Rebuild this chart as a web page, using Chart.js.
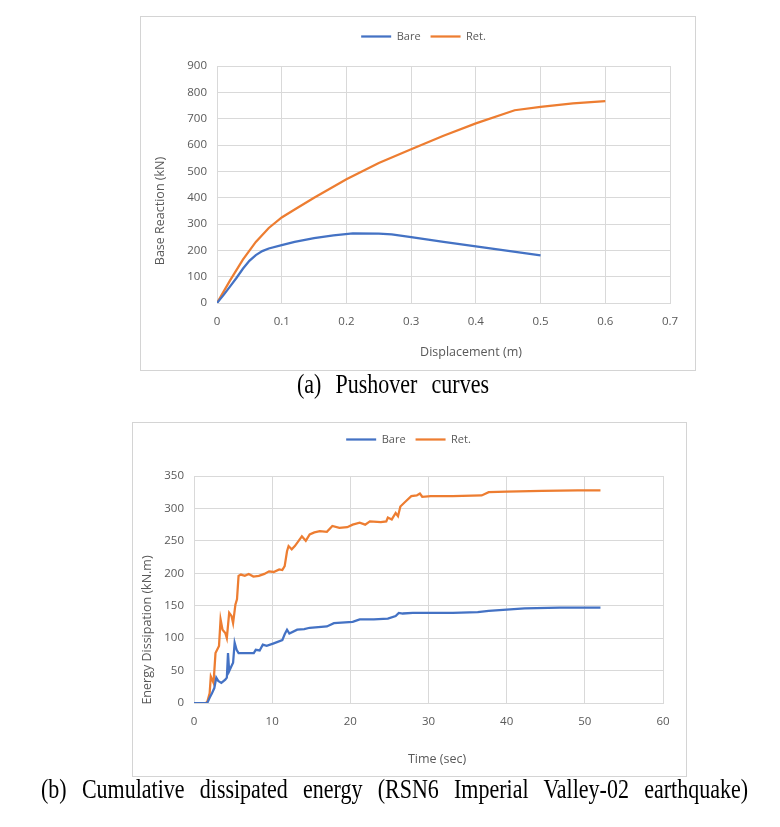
<!DOCTYPE html>
<html lang="en">
<head>
  <meta charset="UTF-8">
  <title>Pushover curves and dissipated energy</title>
  <style>
    body {
      margin: 0;
      background: #fff;
      width: 780px;
      height: 827px;
      position: relative;
      overflow: hidden;
    }
    .box {
      position: absolute;
      border: 1px solid #d4d4d4;
      background: #fff;
    }
    .box canvas { display: block; }
    .caption {
      position: absolute;
      font-family: "Liberation Serif", "DejaVu Serif", serif;
      font-size: 22px;
      color: #000;
      text-align: justify;
      text-align-last: justify;
      white-space: nowrap;
      line-height: 1;
      transform: scaleY(1.22);
      transform-origin: 50% 0;
    }
  </style>
  <script src="https://cdn.jsdelivr.net/npm/chart.js"></script>
</head>
<body>

  <div class="box" style="left:140px; top:16px;">
    <canvas id="pushoverChart" width="554" height="353"></canvas>
  </div>
  <div class="caption" style="left:297px; top:371px; width:192px;">(a) Pushover curves</div>

  <div class="box" style="left:132px; top:422px;">
    <canvas id="energyChart" width="553" height="353"></canvas>
  </div>
  <div class="caption" style="left:41px; top:776px; width:707px;">(b) Cumulative dissipated energy (RSN6 Imperial Valley-02 earthquake)</div>

  <script>
    // (a) pushover curves
    const bareDisp = [0, 0.01, 0.02, 0.03, 0.04, 0.05, 0.06, 0.07, 0.08, 0.1, 0.12, 0.15, 0.18, 0.21, 0.25, 0.27, 0.3, 0.35, 0.4, 0.45, 0.5];
    const bareReaction = [0, 30, 62, 95, 130, 160, 182, 197, 207, 220, 232, 246, 257, 264, 263, 261, 250, 232, 215, 198, 181];
    const retDisp = [0, 0.02, 0.04, 0.06, 0.08, 0.1, 0.12, 0.15, 0.2, 0.25, 0.3, 0.35, 0.4, 0.46, 0.5, 0.55, 0.6];
    const retReaction = [0, 85, 165, 232, 285, 325, 355, 400, 470, 532, 584, 635, 682, 732, 745, 758, 767];

    // (b) cumulative dissipated energy
    const bareTime = [0, 1.7, 2.0, 2.3, 2.6, 2.85, 3.1, 3.5, 4.0, 4.2, 4.35, 4.5, 4.8, 5.0, 5.2, 5.45, 5.7, 7.0, 7.65, 7.9, 8.4, 8.8, 9.3, 10.2, 11.3, 11.6, 11.9, 12.2, 13.2, 14.1, 14.8, 17.0, 17.9, 20.3, 21.2, 23.0, 24.8, 25.8, 26.2, 26.7, 28.0, 29.9, 33.1, 36.3, 37.7, 40.0, 42.3, 46.8, 52];
    const bareEnergy = [0, 0, 8, 15, 23, 39, 34, 31, 36, 39, 77, 49, 57, 62, 93, 82, 77, 77, 77, 82, 81, 90, 88, 92, 97, 106, 113, 107, 113, 114, 116, 118, 123, 125, 129, 129, 130, 134, 139, 138, 139, 139, 139, 140, 142, 144, 146, 147, 147];
    const retTime = [0, 1.5, 1.7, 2.0, 2.15, 2.5, 2.75, 3.2, 3.4, 3.65, 4.0, 4.2, 4.5, 4.8, 5.0, 5.3, 5.5, 5.7, 6.0, 6.5, 7.0, 7.6, 8.3, 9.0, 9.6, 10.2, 10.9, 11.3, 11.6, 11.9, 12.1, 12.5, 12.9, 13.5, 13.8, 14.3, 14.8, 15.4, 16.1, 17.0, 17.7, 18.6, 19.6, 20.3, 21.2, 21.9, 22.5, 23.9, 24.6, 24.8, 25.3, 25.8, 26.1, 26.4, 27.1, 27.8, 28.5, 28.9, 29.2, 30.3, 33.1, 36.8, 37.7, 40.0, 44.5, 49.1, 52];
    const retEnergy = [0, 0, 2, 15, 41, 31, 77, 88, 129, 113, 108, 100, 139, 134, 123, 152, 160, 196, 198, 196, 199, 195, 196, 199, 203, 202, 206, 205, 211, 234, 242, 237, 242, 252, 257, 250, 260, 263, 265, 264, 273, 270, 271, 275, 278, 275, 280, 279, 280, 286, 283, 293, 288, 303, 311, 319, 320, 323, 318, 319, 319, 320, 325, 326, 327, 328, 328];

    const seriesNames = ['Bare', 'Ret.'];
    const seriesColors = ['#4472C4', '#ED7D31'];

    const textGrey = '#595959';
    const gridGrey = '#d9d9d9';
    const baseFont = { family: '"Open Sans", "Liberation Sans", sans-serif', size: 11.5 };

    function toPoints(xs, ys) {
      return xs.map((x, i) => ({ x: x, y: ys[i] }));
    }

    // make room between the legend and the plot, like the Excel layout
    const legendGap = {
      id: 'legendGap',
      beforeInit(chart, args, opts) {
        const fit = chart.legend.fit;
        chart.legend.fit = function () {
          fit.bind(chart.legend)();
          this.height += opts.gap || 0;
        };
      }
    };

    // axis titles drawn by hand so they can sit off-centre like the original
    const axisTitles = {
      id: 'axisTitles',
      afterDraw(chart, args, opts) {
        const ctx = chart.ctx;
        ctx.save();
        ctx.fillStyle = textGrey;
        ctx.font = '12.5px "Open Sans", "Liberation Sans", sans-serif';
        ctx.textAlign = 'center';
        ctx.textBaseline = 'middle';
        ctx.fillText(opts.x.text, opts.x.cx, opts.x.cy);
        ctx.translate(opts.y.cx, opts.y.cy);
        ctx.rotate(-Math.PI / 2);
        ctx.fillText(opts.y.text, 0, 0);
        ctx.restore();
      }
    };

    function makeChart(id, datasets, xScale, yScale, layout) {
      const ctx = document.getElementById(id).getContext('2d');
      return new Chart(ctx, {
        type: 'scatter',
        data: {
          datasets: datasets.map((d, i) => ({
            label: seriesNames[i],
            data: d,
            showLine: true,
            borderColor: seriesColors[i],
            backgroundColor: seriesColors[i],
            borderWidth: 2.25,
            pointRadius: 0,
            tension: 0
          }))
        },
        options: {
          responsive: false,
          animation: false,
          layout: { padding: layout.padding },
          plugins: {
            legend: {
              position: 'top',
              labels: {
                usePointStyle: true,
                pointStyle: 'line',
                pointStyleWidth: 30,
                color: textGrey,
                font: { family: baseFont.family, size: 11 },
                padding: 10
              }
            },
            tooltip: { enabled: false },
            legendGap: { gap: layout.legendGap },
            axisTitles: layout.titles
          },
          scales: {
            x: {
              type: 'linear',
              min: xScale.min,
              max: xScale.max,
              ticks: {
                stepSize: xScale.step,
                color: textGrey,
                font: baseFont,
                padding: 12,
                maxRotation: 0,
                callback: v => Number(v.toFixed(2)).toString()
              },
              grid: { color: gridGrey, drawTicks: false },
              border: { color: gridGrey },
              afterFit(scale) { scale.height = layout.xHeight; }
            },
            y: {
              type: 'linear',
              min: yScale.min,
              max: yScale.max,
              ticks: {
                stepSize: yScale.step,
                color: textGrey,
                font: baseFont,
                padding: 10
              },
              grid: { color: gridGrey, drawTicks: false },
              border: { color: gridGrey },
              afterFit(scale) { scale.width = 40; }
            }
          }
        },
        plugins: [legendGap, axisTitles]
      });
    }

    makeChart('pushoverChart',
      [toPoints(bareDisp, bareReaction), toPoints(retDisp, retReaction)],
      { min: 0, max: 0.7, step: 0.1 },
      { min: 0, max: 900, step: 100 },
      {
        padding: { left: 36, right: 25, top: 4, bottom: 0 },
        legendGap: 14,
        xHeight: 67,
        titles: {
          x: { text: 'Displacement (m)', cx: 330, cy: 335 },
          y: { text: 'Base Reaction (kN)', cx: 19, cy: 194 }
        }
      });

    makeChart('energyChart',
      [toPoints(bareTime, bareEnergy), toPoints(retTime, retEnergy)],
      { min: 0, max: 60, step: 10 },
      { min: 0, max: 350, step: 50 },
      {
        padding: { left: 21, right: 23, top: 1, bottom: 0 },
        legendGap: 21,
        xHeight: 73,
        titles: {
          x: { text: 'Time (sec)', cx: 304, cy: 336 },
          y: { text: 'Energy Dissipation (kN.m)', cx: 14, cy: 207 }
        }
      });
  </script>

</body>
</html>
